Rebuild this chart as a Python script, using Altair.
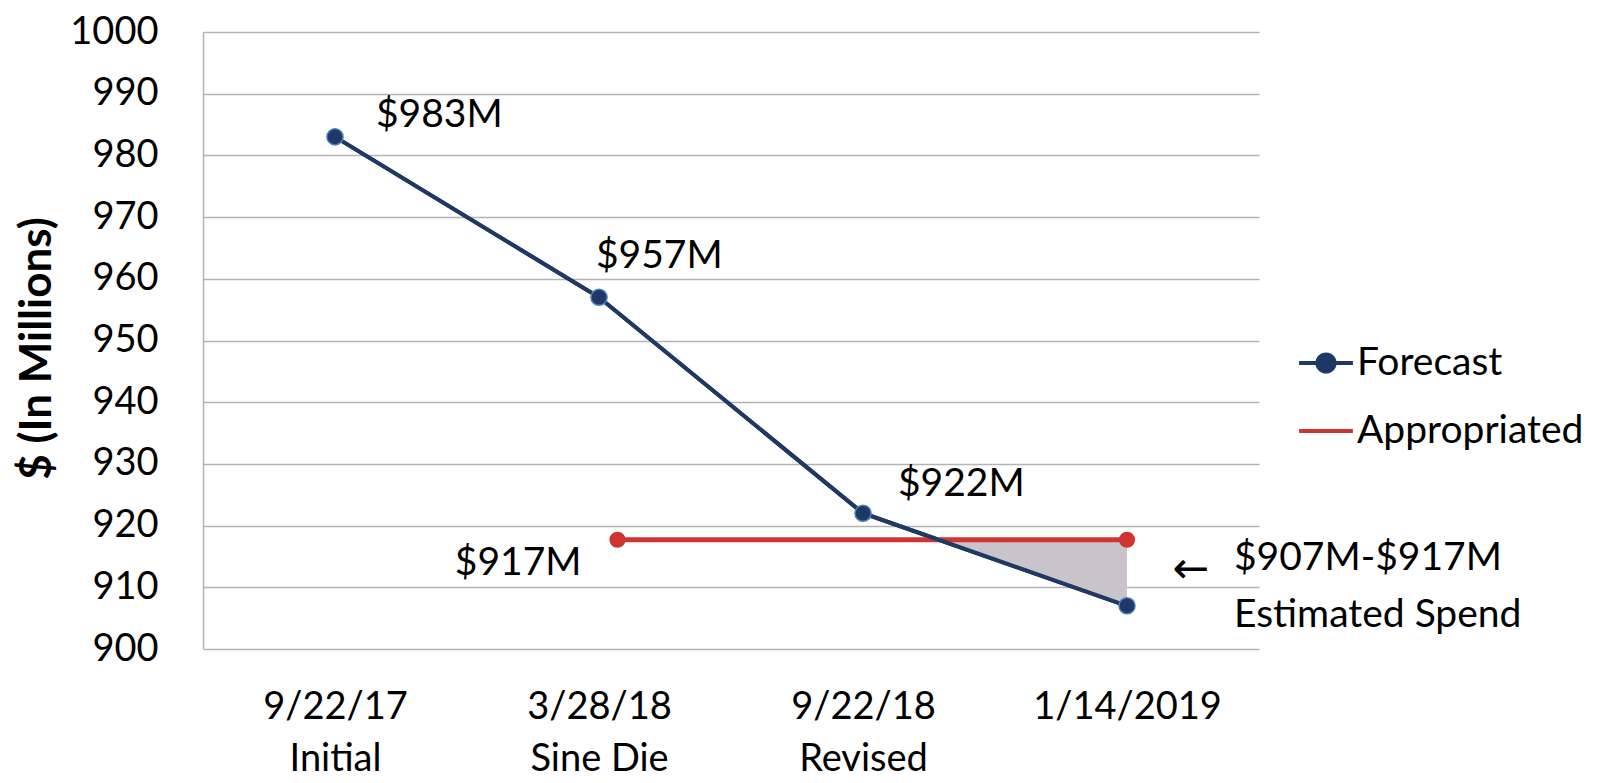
import altair as alt
import pandas as pd

# ---- data ----
cat_idx = [0, 1, 2, 3]
cat_line1 = ["9/22/17", "3/28/18", "9/22/18", "1/14/2019"]
cat_line2 = ["Initial", "Sine Die", "Revised", ""]
forecast = [983, 957, 922, 907]
forecast_labels = ["$983M", "$957M", "$922M", ""]
approp_x = [1.07, 3.0]
approp_y = [917.7, 917.7]
approp_label = "$917M"
annot_lines = ["$907M-$917M", "Estimated Spend"]
series = ["Forecast", "Appropriated"]

NAVY = "#1f3864"
DOT_EDGE = "#4a7ebb"
RED = "#cf3430"
GREY_FILL = "#c8c4c9"
FONT = "Lato"

fc = pd.DataFrame({"x": cat_idx, "y": forecast, "label": forecast_labels})
ap = pd.DataFrame({"x": approp_x, "y": approp_y})

# shaded gap between the forecast line and the appropriated line
a = approp_y[0]
x0, y0, x1, y1 = cat_idx[2], forecast[2], cat_idx[3], forecast[3]
t = (y0 - a) / (y0 - y1)
xi = x0 + t * (x1 - x0)
gap = pd.DataFrame({"x": [xi, x1], "y": [a, y1], "y2": [a, a]})

label_expr = "[" + ",".join(
    "['%s','%s']" % (l1, l2) for l1, l2 in zip(cat_line1, cat_line2)
) + "][datum.value]"

xscale = alt.Scale(domain=[-0.5, 3.5], nice=False, zero=False)
yscale = alt.Scale(domain=[900, 1000], nice=False, zero=False)

xenc = alt.X(
    "x:Q", scale=xscale, title=None,
    axis=alt.Axis(values=cat_idx, labelExpr=label_expr, grid=False, domain=False,
                  ticks=False, labelPadding=39, labelFont=FONT, labelFontSize=38,
                  labelColor="#000000", labelLineHeight=52, labelFlush=False,
                  labelLimit=400, labelOverlap=False),
)
yenc = alt.Y(
    "y:Q", scale=yscale, title="$ (In Millions)",
    axis=alt.Axis(values=list(range(900, 1001, 10)), format="d", grid=True,
                  gridColor="#b4b4b4", gridWidth=1.5, domain=True, domainColor="#b4b4b4",
                  domainWidth=1.5, ticks=False, labelPadding=45, labelFont=FONT,
                  labelFontSize=38, labelColor="#000000", titleFont=FONT, titleFontSize=44,
                  titleFontWeight="bold", titleColor="#000000", titleX=-166,
                  titleY=316, titleAlign="center", titleBaseline="middle", titleAngle=270),
)

area = alt.Chart(gap).mark_area(color=GREY_FILL, opacity=1).encode(
    x=alt.X("x:Q", scale=xscale), y=alt.Y("y:Q", scale=yscale), y2="y2:Q"
)

ap_line = alt.Chart(ap).mark_line(color=RED, strokeWidth=5).encode(
    x=alt.X("x:Q", scale=xscale), y=alt.Y("y:Q", scale=yscale)
)
ap_pts = alt.Chart(ap).mark_point(filled=True, color=RED, size=260, opacity=1).encode(
    x=alt.X("x:Q", scale=xscale), y=alt.Y("y:Q", scale=yscale)
)

fc_line = alt.Chart(fc).mark_line(color=NAVY, strokeWidth=4).encode(x=xenc, y=yenc)
fc_pts = alt.Chart(fc).mark_point(
    filled=True, fill=NAVY, stroke=DOT_EDGE, strokeWidth=1.5, size=260, opacity=1
).encode(x=alt.X("x:Q", scale=xscale), y=alt.Y("y:Q", scale=yscale))

def fc_text(i, dx, dy, align="left"):
    return alt.Chart(fc.iloc[[i]]).mark_text(
        font=FONT, fontSize=39, color="#000000", align=align, baseline="middle",
        dx=dx, dy=dy
    ).encode(x=alt.X("x:Q", scale=xscale), y=alt.Y("y:Q", scale=yscale), text="label:N")

t0 = fc_text(0, 41, -22)
t1 = fc_text(1, -3, -41)
t2 = fc_text(2, 35, -29)

ap_text = alt.Chart(ap.iloc[[0]].assign(label=approp_label)).mark_text(
    font=FONT, fontSize=39, color="#000000", align="right", baseline="middle",
    dx=-36, dy=23
).encode(x=alt.X("x:Q", scale=xscale), y=alt.Y("y:Q", scale=yscale), text="label:N")

last = fc.iloc[[3]].copy()
arrow = alt.Chart(last.assign(label="←")).mark_text(
    font="DejaVu Sans", fontSize=44, color="#000000", align="center", baseline="middle",
    dx=64, dy=-36
).encode(x=alt.X("x:Q", scale=xscale), y=alt.Y("y:Q", scale=yscale), text="label:N")

annot = alt.Chart(last).mark_text(
    font=FONT, fontSize=39, color="#000000", align="left", baseline="middle",
    dx=107, dy=-48, lineHeight=57
).encode(x=alt.X("x:Q", scale=xscale), y=alt.Y("y:Q", scale=yscale),
         text=alt.value(annot_lines))

# legend (symbols only, no marks drawn)
leg = pd.DataFrame({"series": series, "x": [0, 0], "y": [950, 950]})
path_fc = "M-1,0L1,0M0.32,0A0.32,0.32,0,1,1,-0.32,0A0.32,0.32,0,1,1,0.32,0Z"
path_ap = "M-1,0L1,0"

def legend():
    return alt.Legend(title=None, orient="none", legendX=1094, legendY=302,
                      labelFont=FONT, labelFontSize=39, labelColor="#000000",
                      symbolSize=2900, symbolStrokeWidth=4, labelOffset=2,
                      rowPadding=19, labelLimit=400)

leg_layer = alt.Chart(leg).transform_filter("false").mark_point(filled=True, opacity=1).encode(
    x=alt.X("x:Q", scale=xscale), y=alt.Y("y:Q", scale=yscale),
    fill=alt.Fill("series:N", scale=alt.Scale(domain=series, range=[NAVY, RED]), legend=legend()),
    stroke=alt.Stroke("series:N", scale=alt.Scale(domain=series, range=[NAVY, RED]), legend=legend()),
    shape=alt.Shape("series:N", scale=alt.Scale(domain=series, range=[path_fc, path_ap]), legend=legend()),
)

chart = alt.layer(
    fc_line, area, ap_line, fc_line, ap_pts, fc_pts, t0, t1, t2, ap_text, arrow, annot, leg_layer
).properties(
    width=1056, height=617,
    autosize=alt.AutoSizeParams(type="none"),
    padding={"left": 195, "top": 24, "right": 340, "bottom": 133},
    background="#ffffff",
).configure_view(strokeWidth=0)

chart.save("out.html", embed_options={"renderer": "svg", "actions": False})
